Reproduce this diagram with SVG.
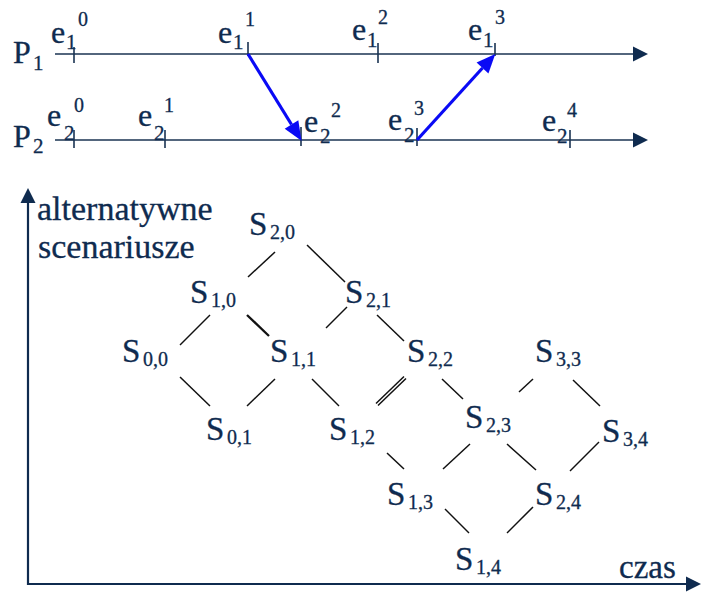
<svg xmlns="http://www.w3.org/2000/svg" width="701" height="597" viewBox="0 0 701 597" font-family="Liberation Serif, DejaVu Serif, serif">
<style>
text{font-family:'Liberation Serif','DejaVu Serif',serif;fill:#0f2b4f;stroke:#0f2b4f;stroke-width:0.3}
.big{font-size:33px}
.lab{font-size:34px}
.e{font-size:32px}
.p{font-size:32px}
.sub{font-size:20px}
.esub{font-size:21px}
.sup{font-size:20px}
.tl{stroke:#1a3352;stroke-width:1.6;fill:none}
.tick{stroke:#1a3352;stroke-width:1.6}
.ax{stroke:#0f2b4f;stroke-width:2.2;fill:none}
.edge{stroke:#111;stroke-width:1.5}
.msg{stroke:#0a0af5;stroke-width:3.2;fill:none}
</style>
<defs>
<marker id="nav" markerUnits="userSpaceOnUse" markerWidth="20" markerHeight="20" refX="0" refY="0" viewBox="0 -10 20 20" orient="auto" overflow="visible"><path d="M0,-7.5 L15,0 L0,7.5 z" fill="#0f2b4f"/></marker>
<marker id="blu" markerUnits="userSpaceOnUse" markerWidth="20" markerHeight="20" refX="0" refY="0" viewBox="0 -10 20 20" orient="auto" overflow="visible"><path d="M0,-8 L19,0 L0,8 z" fill="#0a0af5"/></marker>
</defs>
<g id="timelines">
<line class="tl" x1="55" y1="54" x2="633" y2="54" marker-end="url(#nav)"/>
<line class="tl" x1="55" y1="140" x2="633" y2="140" marker-end="url(#nav)"/>
<line class="tick" x1="74" y1="47" x2="74" y2="63"/>
<line class="tick" x1="248" y1="42" x2="248" y2="56"/>
<line class="tick" x1="378" y1="43" x2="378" y2="63"/>
<line class="tick" x1="495" y1="43" x2="495" y2="56"/>
<line class="tick" x1="74" y1="130" x2="74" y2="148"/>
<line class="tick" x1="165" y1="130" x2="165" y2="148"/>
<line class="tick" x1="301" y1="127" x2="301" y2="146"/>
<line class="tick" x1="417" y1="128" x2="417" y2="146"/>
<line class="tick" x1="570" y1="130" x2="570" y2="148"/>
</g>
<g id="messages">
<line class="msg" x1="248" y1="54" x2="291.5" y2="124.5" marker-end="url(#blu)"/>
<line class="msg" x1="417" y1="140" x2="482.5" y2="68" marker-end="url(#blu)"/>
</g>
<g id="P1"><text class="p" x="13" y="63">P</text><text class="esub" x="33" y="70">1</text></g>
<g id="P2"><text class="p" x="13" y="147">P</text><text class="esub" x="33" y="153">2</text></g>
<g id="e1_0"><text class="e" x="51" y="43">e</text><text class="esub" x="66" y="49">1</text><text class="sup" x="78" y="26">0</text></g>
<g id="e1_1"><text class="e" x="218" y="43">e</text><text class="esub" x="233" y="49">1</text><text class="sup" x="245" y="26">1</text></g>
<g id="e1_2"><text class="e" x="352" y="40">e</text><text class="esub" x="367" y="47">1</text><text class="sup" x="378" y="24">2</text></g>
<g id="e1_3"><text class="e" x="468" y="40">e</text><text class="esub" x="483" y="47">1</text><text class="sup" x="495" y="24">3</text></g>
<g id="e2_0"><text class="e" x="47" y="126">e</text><text class="esub" x="64" y="140">2</text><text class="sup" x="74" y="112">0</text></g>
<g id="e2_1"><text class="e" x="138" y="126">e</text><text class="esub" x="154" y="140">2</text><text class="sup" x="164" y="112">1</text></g>
<g id="e2_2"><text class="e" x="304" y="132">e</text><text class="esub" x="320" y="143">2</text><text class="sup" x="331" y="117">2</text></g>
<g id="e2_3"><text class="e" x="388" y="130">e</text><text class="esub" x="404" y="142">2</text><text class="sup" x="414" y="115">3</text></g>
<g id="e2_4"><text class="e" x="542" y="131">e</text><text class="esub" x="557" y="143">2</text><text class="sup" x="567" y="117">4</text></g>
<g id="axes">
<line class="ax" x1="28" y1="585" x2="28" y2="203" marker-end="url(#nav)"/>
<line class="ax" x1="27" y1="584" x2="686" y2="584" marker-end="url(#nav)"/>
</g>
<g id="axis-labels">
<text class="lab" x="37" y="220">alternatywne</text>
<text class="lab" x="38" y="258">scenariusze</text>
<text class="big" x="619" y="578">czas</text>
</g>
<g id="edges">
<line class="edge" x1="248" y1="277" x2="275" y2="252"/>
<line class="edge" x1="307" y1="245" x2="345" y2="282"/>
<line class="edge" x1="210" y1="315" x2="180" y2="345"/>
<line class="edge" x1="247" y1="315" x2="269" y2="336" style="stroke-width:2.3"/>
<line class="edge" x1="326" y1="328" x2="347" y2="307"/>
<line class="edge" x1="377" y1="315" x2="404" y2="341"/>
<line class="edge" x1="180" y1="377" x2="210" y2="406"/>
<line class="edge" x1="247" y1="406" x2="275" y2="379"/>
<line class="edge" x1="312" y1="379" x2="339" y2="406"/>
<line class="edge" x1="376" y1="403.5" x2="404" y2="376.5"/>
<line class="edge" x1="378" y1="405.5" x2="406" y2="378.5"/>
<line class="edge" x1="387" y1="453" x2="404" y2="469"/>
<line class="edge" x1="442" y1="379" x2="463" y2="399"/>
<line class="edge" x1="443" y1="469" x2="470" y2="444"/>
<line class="edge" x1="507" y1="444" x2="536" y2="470"/>
<line class="edge" x1="519" y1="392" x2="533" y2="379"/>
<line class="edge" x1="573" y1="380" x2="600" y2="406"/>
<line class="edge" x1="570" y1="471" x2="599" y2="442"/>
<line class="edge" x1="445" y1="509" x2="469" y2="533"/>
<line class="edge" x1="507" y1="533" x2="533" y2="507"/>
</g>
<g id="S2_0"><text class="big" x="249" y="235">S</text><text class="sub" x="270" y="239">2,0</text></g>
<g id="S1_0"><text class="big" x="190" y="303">S</text><text class="sub" x="211" y="307">1,0</text></g>
<g id="S2_1"><text class="big" x="345" y="303">S</text><text class="sub" x="366" y="307">2,1</text></g>
<g id="S0_0"><text class="big" x="122" y="362">S</text><text class="sub" x="143" y="366">0,0</text></g>
<g id="S1_1"><text class="big" x="270" y="362">S</text><text class="sub" x="291" y="366">1,1</text></g>
<g id="S2_2"><text class="big" x="407" y="362">S</text><text class="sub" x="428" y="366">2,2</text></g>
<g id="S3_3"><text class="big" x="535" y="362">S</text><text class="sub" x="556" y="366">3,3</text></g>
<g id="S2_3"><text class="big" x="465" y="428">S</text><text class="sub" x="486" y="432">2,3</text></g>
<g id="S0_1"><text class="big" x="206" y="440">S</text><text class="sub" x="227" y="444">0,1</text></g>
<g id="S1_2"><text class="big" x="329" y="440">S</text><text class="sub" x="350" y="444">1,2</text></g>
<g id="S3_4"><text class="big" x="602" y="442">S</text><text class="sub" x="623" y="446">3,4</text></g>
<g id="S1_3"><text class="big" x="387" y="505">S</text><text class="sub" x="408" y="509">1,3</text></g>
<g id="S2_4"><text class="big" x="535" y="505">S</text><text class="sub" x="556" y="509">2,4</text></g>
<g id="S1_4"><text class="big" x="455" y="570">S</text><text class="sub" x="476" y="574">1,4</text></g>
</svg>
